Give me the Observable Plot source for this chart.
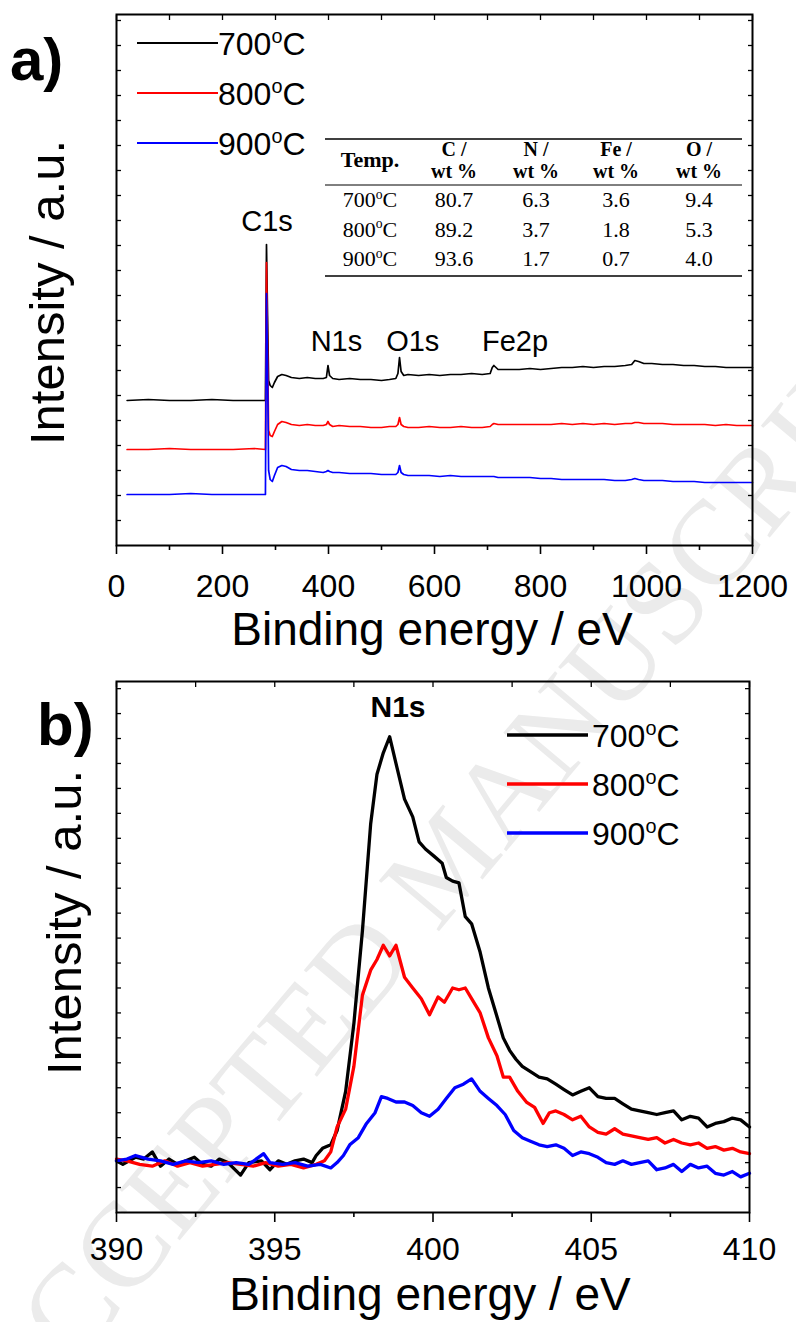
<!DOCTYPE html>
<html><head><meta charset="utf-8">
<script src="https://cdn.jsdelivr.net/npm/d3@7"></script>
<script src="https://cdn.jsdelivr.net/npm/@observablehq/plot@0.6"></script>
<style>
body{margin:0;background:#fff;width:796px;height:1322px;overflow:hidden;position:relative;}
#wm{position:absolute;left:0;top:0;z-index:0;}
#charts{position:relative;z-index:1;}
#charts svg{display:block;}
</style></head><body>
<svg id="wm" width="796" height="1322"><text transform="translate(19,1432) rotate(-50)" font-family="'Liberation Serif','Times New Roman',serif" font-size="120" fill="#ebebeb">ACCEPTED MANUSCRIPT</text></svg>
<div id="charts"></div>
<script>
// ---------- Panel a) survey spectra ----------
const temps = ["700", "800", "900"];
const seriesColors = ["#000000", "#ff0000", "#0000ff"];

const surveyEnergy = [20,60,100,140,180,220,260,281,283,285,287,290,294,298,304,312,320,330,345,360,375,390,396,399,402,408,420,440,460,480,500,515,527,531,534,537,542,550,570,590,610,630,650,670,690,705,709,712,720,740,760,780,800,820,840,860,880,900,920,940,960,972,978,985,995,1010,1030,1050,1070,1090,1110,1130,1150,1170,1185,1200];
const survey700 = [145,146,145,145,146,145,145,145,301,230,165,160,158,163,169,171,170,168,167,168,167,167,168,180,170,167,166,167,166,166,165,166,167,172,188,174,170,171,170,171,170,171,171,172,171,172,178,180,176,176,176,177,176,177,178,178,179,178,179,179,180,181,185,184,182,182,181,181,180,180,179,179,178,178,178,178];
const survey800 = [96,96,97,96,96,96,97,96,283,200,115,110,109,114,121,124,123,121,120,121,120,120,121,124,121,119,120,119,119,118,118,119,119,121,128,121,119,118,118,119,118,118,119,118,118,119,121,122,121,121,121,121,121,121,122,121,122,121,122,121,122,122,123,123,122,122,122,121,121,121,121,120,121,120,120,120];
const survey900 = [51,51,51,52,51,51,51,51,252,180,75,66,64,70,78,80,79,76,75,75,74,73,74,75,74,73,73,72,72,72,71,71,71,73,80,73,71,70,70,70,69,70,69,69,69,69,69,69,68,68,68,68,67,67,66,66,66,66,66,65,65,66,67,66,65,65,65,64,64,64,63,63,63,63,63,63];

const surveyMajorTicks = [0,200,400,600,800,1000,1200];
const surveyMinorTicks = [100,300,500,700,900,1100];
const surveyAllTicks = [0,100,200,300,400,500,600,700,800,900,1000,1100,1200];
const surveyYTicks = [25,50,75,100,125,150,175,200,225,250,275,300,325,350,375,400,425,450,475,500,525];
const surveyPeakLabels = [
  {name: "C1s", energy: 284},
  {name: "N1s", energy: 415},
  {name: "O1s", energy: 559},
  {name: "Fe2p", energy: 752}
];

// composition table
const tableHeads = ["C /", "N /", "Fe /", "O /"];
const tableC = ["80.7", "89.2", "93.6"];
const tableN = ["6.3", "3.7", "1.7"];
const tableFe = ["3.6", "1.8", "0.7"];
const tableO = ["9.4", "5.3", "4.0"];

// ---------- Panel b) N1s spectra ----------
const n1sEnergy700 = [390.00,390.20,390.60,390.86,391.13,391.39,391.66,391.93,392.19,392.46,392.72,392.99,393.25,393.52,393.92,394.18,394.58,394.85,395.11,395.38,395.64,395.91,396.18,396.31,396.51,396.77,396.97,397.24,397.50,397.77,398.03,398.23,398.43,398.63,398.83,399.10,399.36,399.56,399.76,400.03,400.29,400.42,400.62,400.82,401.02,401.22,401.49,401.75,402.02,402.22,402.42,402.62,402.82,403.08,403.35,403.61,403.88,404.14,404.41,404.67,404.94,405.21,405.47,405.74,406.00,406.27,406.53,406.80,407.07,407.33,407.60,407.86,408.13,408.39,408.66,408.92,409.19,409.46,409.72,410.00];
const n1s700 = [145,135,155,150,170,130,150,135,145,155,135,130,150,140,105,140,145,120,145,135,145,150,140,160,180,190,230,340,530,790,1090,1230,1290,1335,1260,1160,1110,1040,1020,1000,980,940,930,925,830,810,730,630,550,490,455,430,410,395,380,375,360,345,330,340,350,325,320,320,305,290,285,280,275,280,285,260,270,265,240,250,255,265,260,240];

const n1sEnergy800 = [390.00,390.33,390.73,391.13,391.53,391.93,392.32,392.72,393.12,393.52,393.92,394.32,394.71,395.11,395.51,395.91,396.31,396.57,396.77,396.97,397.24,397.50,397.77,398.03,398.23,398.43,398.63,398.83,399.10,399.36,399.63,399.89,400.16,400.36,400.62,400.82,401.02,401.22,401.49,401.75,402.02,402.22,402.42,402.68,402.95,403.21,403.48,403.68,403.88,404.14,404.41,404.67,404.94,405.21,405.47,405.74,406.00,406.27,406.53,406.80,407.07,407.33,407.60,407.86,408.13,408.39,408.66,408.92,409.19,409.46,409.72,410.00];
const n1s800 = [150,145,135,130,145,130,140,130,135,140,135,130,140,130,135,125,135,145,170,240,290,410,610,680,710,750,720,750,660,630,600,555,605,590,630,625,630,600,560,490,440,380,380,340,310,295,250,280,285,275,260,270,240,225,220,235,220,215,210,205,210,195,205,195,190,195,180,185,175,180,170,165];

const n1sEnergy900 = [390.00,390.33,390.60,391.00,391.39,391.79,392.19,392.59,392.99,393.39,393.78,394.18,394.65,394.85,395.25,395.64,396.04,396.44,396.77,396.97,397.17,397.37,397.64,397.90,398.17,398.37,398.57,398.83,399.10,399.36,399.63,399.89,400.16,400.42,400.69,400.96,401.22,401.49,401.75,402.02,402.28,402.55,402.82,403.08,403.35,403.61,403.88,404.14,404.41,404.67,404.94,405.21,405.47,405.74,406.00,406.27,406.53,406.80,407.07,407.33,407.60,407.86,408.13,408.39,408.66,408.92,409.19,409.46,409.72,410.00];
const n1s900 = [145,150,160,150,145,135,145,140,145,135,140,135,165,140,135,140,130,135,125,140,160,190,210,250,280,325,320,310,310,300,280,270,290,320,350,360,375,340,320,300,275,230,210,200,190,185,190,180,160,170,165,155,140,135,145,135,140,145,120,125,135,115,135,125,130,110,105,115,100,110];

const n1sMajorTicks = [390,395,400,405,410];
const n1sMinorTicks = [392.5,397.5,402.5,407.5];
const n1sAllTicks = [390,392.5,395,397.5,400,402.5,405,407.5,410];
const n1sYTicks = [70,140,210,280,350,420,490,560,630,700,770,840,910,980,1050,1120,1190,1260,1330,1400,1470];

const SANS = "'Liberation Sans', Arial, Helvetica, sans-serif";
const SERIF = "'Liberation Serif', 'Times New Roman', Times, serif";

function rows(E, V) { return E.map((e, i) => ({energy: e, intensity: V[i]})); }

function txt(parent, x, y, str, size, family, weight, anchor) {
  const t = parent.append("text").attr("x", x).attr("y", y)
    .attr("font-family", family).attr("font-size", size).attr("fill", "#000")
    .attr("text-anchor", anchor || "start");
  if (weight) t.attr("font-weight", weight);
  if (str != null) t.text(str);
  return t;
}

function degText(parent, x, y, num, size, family, weight, anchor) {
  const t = txt(parent, x, y, null, size, family, weight, anchor);
  t.append("tspan").text(num);
  t.append("tspan").attr("font-size", size * 0.62).attr("dy", -size * 0.38).text("o");
  t.append("tspan").attr("dy", size * 0.38).text("C");
  return t;
}

const blank = () => "";

// ---------------- TOP PLOT ----------------
const surveySets = [survey700, survey800, survey900];
const topPlot = Plot.plot({
  width: 796, height: 660,
  marginLeft: 116, marginRight: 44, marginTop: 14, marginBottom: 115,
  x: {domain: [0, 1200], label: null},
  y: {domain: [0, 531], label: null},
  style: {fontFamily: SANS, fontSize: "32px", color: "#000", background: "transparent", overflow: "visible"},
  marks: [
    ...surveySets.map((s, i) => Plot.line(rows(surveyEnergy, s), {x: "energy", y: "intensity", stroke: seriesColors[i], strokeWidth: 1.7})),
    Plot.axisX({anchor: "bottom", ticks: surveyMajorTicks, tickSize: 9, tickPadding: 20, tickFormat: d => String(d), fontSize: 32, strokeWidth: 1.6}),
    Plot.axisX({anchor: "bottom", ticks: surveyMinorTicks, tickSize: 5, tickFormat: blank, strokeWidth: 1.6}),
    Plot.axisX({anchor: "top", ticks: surveyAllTicks, tickSize: -5, tickFormat: blank, strokeWidth: 1.3}),
    Plot.axisY({anchor: "left", ticks: surveyYTicks, tickSize: -5, tickFormat: blank, strokeWidth: 1.3}),
    Plot.axisY({anchor: "right", ticks: surveyYTicks, tickSize: -5, tickFormat: blank, strokeWidth: 1.3}),
    Plot.frame({stroke: "#000", strokeWidth: 2}),
    Plot.text(surveyPeakLabels, {x: "energy", y: d => d.name === "C1s" ? 315 : 195, text: "name", fontSize: 29, fontFamily: SANS, fill: "#000", lineAnchor: "bottom", textAnchor: "middle"})
  ]
});
document.getElementById("charts").appendChild(topPlot);

{
  const g = d3.select(topPlot).append("g");
  txt(g, 10, 80, "a)", 60, SANS, "bold");
  txt(g, 432, 645, "Binding energy / eV", 46, SANS, null, "middle");
  txt(g, 0, 0, "Intensity / a.u.", 49, SANS, null, "start").attr("transform", "translate(64,445) rotate(-90)");
  // legend
  temps.forEach((t, i) => {
    g.append("line").attr("x1", 137).attr("x2", 218).attr("y1", 43 + 50 * i).attr("y2", 43 + 50 * i)
      .attr("stroke", seriesColors[i]).attr("stroke-width", 1.8);
    degText(g, 218, 55 + 50 * i, t, 32, SANS, null, "start");
  });
  // composition table
  const colX = [454, 536, 616, 699];
  const tl = 325, tr = 742;
  [[139, 1.6], [185, 1], [276, 1.6]].forEach(([y, w]) => {
    g.append("line").attr("x1", tl).attr("x2", tr).attr("y1", y).attr("y2", y).attr("stroke", "#000").attr("stroke-width", w);
  });
  txt(g, 370, 167, "Temp.", 22, SERIF, "bold", "middle");
  tableHeads.forEach((h, j) => {
    txt(g, colX[j], 156, h, 20, SERIF, "bold", "middle");
    txt(g, colX[j], 178, "wt %", 20, SERIF, "bold", "middle");
  });
  const cols = [tableC, tableN, tableFe, tableO];
  temps.forEach((t, i) => {
    const y = 207 + 29.5 * i;
    degText(g, 370, y, t, 22, SERIF, null, "middle");
    cols.forEach((c, j) => txt(g, colX[j], y, c[i], 22, SERIF, null, "middle"));
  });
}

// ---------------- BOTTOM PLOT ----------------
const n1sSets = [rows(n1sEnergy700, n1s700), rows(n1sEnergy800, n1s800), rows(n1sEnergy900, n1s900)];
const botPlot = Plot.plot({
  width: 796, height: 662,
  marginLeft: 116, marginRight: 47, marginTop: 21, marginBottom: 110,
  x: {domain: [390, 410], label: null},
  y: {domain: [0, 1490], label: null},
  style: {fontFamily: SANS, fontSize: "32px", color: "#000", background: "transparent", overflow: "visible"},
  marks: [
    ...n1sSets.map((s, i) => Plot.line(s, {x: "energy", y: "intensity", stroke: seriesColors[i], strokeWidth: 3.3})),
    Plot.axisX({anchor: "bottom", ticks: n1sMajorTicks, tickSize: 10, tickPadding: 15, tickFormat: d => String(d), fontSize: 32, strokeWidth: 1.6}),
    Plot.axisX({anchor: "bottom", ticks: n1sMinorTicks, tickSize: 5, tickFormat: blank, strokeWidth: 1.6}),
    Plot.axisX({anchor: "top", ticks: n1sAllTicks, tickSize: -5, tickFormat: blank, strokeWidth: 1.3}),
    Plot.axisY({anchor: "left", ticks: n1sYTicks, tickSize: -5, tickFormat: blank, strokeWidth: 1.3}),
    Plot.axisY({anchor: "right", ticks: n1sYTicks, tickSize: -5, tickFormat: blank, strokeWidth: 1.3}),
    Plot.frame({stroke: "#000", strokeWidth: 2})
  ]
});
document.getElementById("charts").appendChild(botPlot);

{
  const g = d3.select(botPlot).append("g");
  txt(g, 37, 85, "b)", 60, SANS, "bold");
  txt(g, 398, 57, "N1s", 30, SANS, "bold", "middle");
  txt(g, 430, 650, "Binding energy / eV", 46, SANS, null, "middle");
  txt(g, 0, 0, "Intensity / a.u.", 49, SANS, null, "start").attr("transform", "translate(81,415) rotate(-90)");
  temps.forEach((t, i) => {
    const y = 75 + 49 * i;
    g.append("line").attr("x1", 507).attr("x2", 588).attr("y1", y).attr("y2", y)
      .attr("stroke", seriesColors[i]).attr("stroke-width", 3.5);
    degText(g, 592, y + 12, t, 32, SANS, null, "start");
  });
}
</script></body></html>
